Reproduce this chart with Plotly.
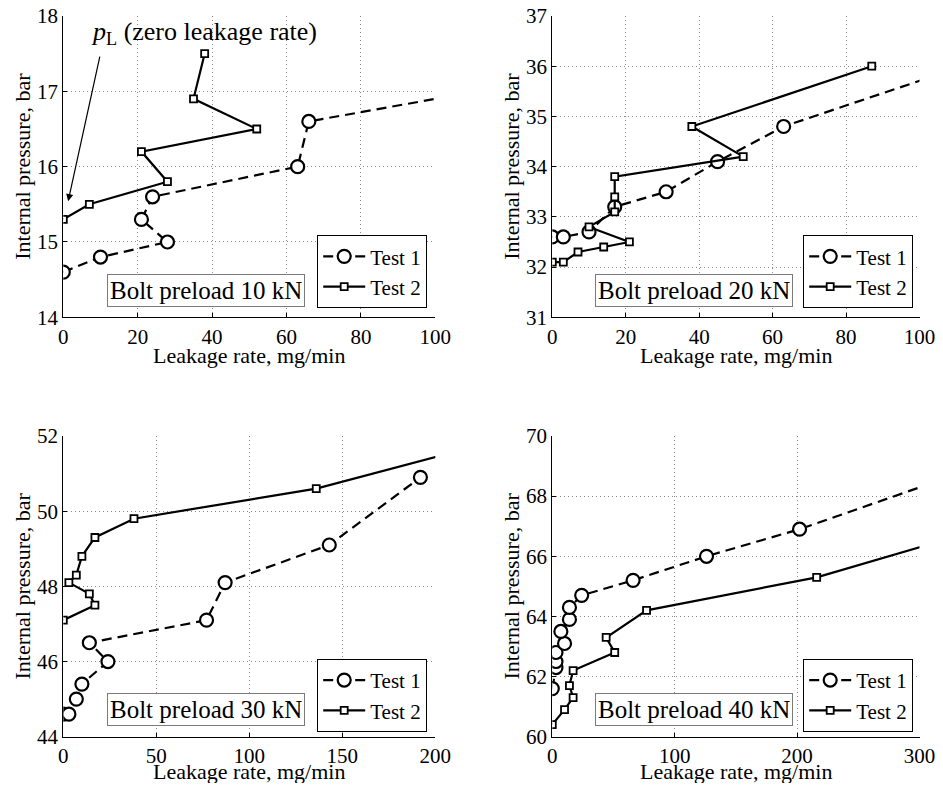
import plotly.graph_objects as go

# ---------------- data ----------------
# Panel 1: Bolt preload 10 kN
p1_t1_x = [0, 10, 28, 21, 24, 63, 66, 134]
p1_t1_y = [14.6, 14.8, 15.0, 15.3, 15.6, 16.0, 16.6, 17.2]
p1_t2_x = [0, 7, 28, 21, 52, 35, 38]
p1_t2_y = [15.3, 15.5, 15.8, 16.2, 16.5, 16.9, 17.5]

# Panel 2: Bolt preload 20 kN
p2_t1_x = [0, 3, 10, 17, 31, 45, 63, 120]
p2_t1_y = [32.6, 32.6, 32.7, 33.2, 33.5, 34.1, 34.8, 36.2]
p2_t2_x = [0, 3, 7, 14, 21, 10, 17, 17, 17, 52, 38, 87]
p2_t2_y = [32.1, 32.1, 32.3, 32.4, 32.5, 32.8, 33.1, 33.4, 33.8, 34.2, 34.8, 36.0]

# Panel 3: Bolt preload 30 kN
p3_t1_x = [0, 3, 7, 10, 24, 14, 77, 87, 143, 192]
p3_t1_y = [44.6, 44.6, 45.0, 45.4, 46.0, 46.5, 47.1, 48.1, 49.1, 50.9]
p3_t2_x = [0, 17, 14, 3, 7, 10, 17, 38, 136, 250]
p3_t2_y = [47.1, 47.5, 47.8, 48.1, 48.3, 48.8, 49.3, 49.8, 50.6, 52.1]

# Panel 4: Bolt preload 40 kN
p4_t1_x = [0, 3, 3, 3, 10, 7, 14, 14, 24, 66, 126, 202, 350]
p4_t1_y = [61.6, 62.3, 62.5, 62.8, 63.1, 63.5, 63.9, 64.3, 64.7, 65.2, 66.0, 66.9, 69.0]
p4_t2_x = [0, 10, 17, 14, 17, 51, 44, 77, 216, 350]
p4_t2_y = [60.4, 60.9, 61.3, 61.7, 62.2, 62.8, 63.3, 64.2, 65.3, 66.9]

panel_labels = ["Bolt preload 10 kN", "Bolt preload 20 kN",
                "Bolt preload 30 kN", "Bolt preload 40 kN"]
series_names = ["Test 1", "Test 2"]
x_ranges = [[0, 100], [0, 100], [0, 200], [0, 300]]
y_ranges = [[14, 18], [31, 37], [44, 52], [60, 70]]
x_dticks = [20, 20, 50, 100]
y_dticks = [1, 1, 2, 2]
x_title = "Leakage rate, mg/min"
y_title = "Internal pressure, bar"

# ---------------- style ----------------
FONT = "Liberation Serif"
OFF = 8  # default page margin of the html body
W, H = 943 - 2 * OFF, 791 - 2 * OFF


def px_x(s):
    return (s - OFF) / W


def px_y(s):
    return 1 - (s - OFF) / H


x_domains = [[px_x(63.3), px_x(435.3)], [px_x(552.3), px_x(919.5)]]
top_dom = [px_y(317.3), px_y(16)]
bot_dom = [px_y(736.7), px_y(436)]
domains = [(x_domains[0], top_dom), (x_domains[1], top_dom),
           (x_domains[0], bot_dom), (x_domains[1], bot_dom)]

data = [
    (p1_t1_x, p1_t1_y, p1_t2_x, p1_t2_y),
    (p2_t1_x, p2_t1_y, p2_t2_x, p2_t2_y),
    (p3_t1_x, p3_t1_y, p3_t2_x, p3_t2_y),
    (p4_t1_x, p4_t1_y, p4_t2_x, p4_t2_y),
]

fig = go.Figure()
legend_names = ["legend", "legend2", "legend3", "legend4"]

for i, (t1x, t1y, t2x, t2y) in enumerate(data):
    suffix = "" if i == 0 else str(i + 1)
    fig.add_trace(go.Scatter(
        x=t1x, y=t1y, name=series_names[0], mode="lines+markers",
        xaxis="x" + suffix, yaxis="y" + suffix, legend=legend_names[i],
        line=dict(color="black", width=2.2, dash="10px,6px"),
        marker=dict(symbol="circle", size=13, color="white",
                    line=dict(color="black", width=2.2)),
    ))
    fig.add_trace(go.Scatter(
        x=t2x, y=t2y, name=series_names[1], mode="lines+markers",
        xaxis="x" + suffix, yaxis="y" + suffix, legend=legend_names[i],
        line=dict(color="black", width=2.2),
        marker=dict(symbol="square", size=7, color="white",
                    line=dict(color="black", width=1.8)),
    ))

layout = dict(
    width=W, height=H, autosize=False,
    margin=dict(l=0, r=0, t=0, b=0, pad=0, autoexpand=False),
    paper_bgcolor="white", plot_bgcolor="white",
    font=dict(family=FONT, size=21, color="black"),
    showlegend=True,
)

for i in range(4):
    suffix = "" if i == 0 else str(i + 1)
    xd, yd = domains[i]
    layout["xaxis" + suffix] = dict(
        domain=xd, anchor="y" + suffix, range=x_ranges[i], dtick=x_dticks[i],
        automargin=False, ticklabeloverflow="allow",
        showline=True, linecolor="black", linewidth=1.2,
        ticks="inside", ticklen=4, tickcolor="black",
        showgrid=True, gridcolor="#8a8a8a", griddash="1px,3px", gridwidth=1,
        zeroline=False, tickfont=dict(family=FONT, size=21, color="black"),
        fixedrange=True,
    )
    layout["yaxis" + suffix] = dict(
        domain=yd, anchor="x" + suffix, range=y_ranges[i], dtick=y_dticks[i],
        automargin=False, ticklabeloverflow="allow",
        showline=True, linecolor="black", linewidth=1.2,
        ticks="inside", ticklen=4, tickcolor="black",
        showgrid=True, gridcolor="#8a8a8a", griddash="1px,3px", gridwidth=1,
        zeroline=False, tickfont=dict(family=FONT, size=21, color="black"),
        title=dict(text=y_title, font=dict(family=FONT, size=22), standoff=0),
        fixedrange=True,
    )

legend_pos = [
    (px_x(427), px_y(308)),
    (px_x(913), px_y(308)),
    (px_x(427), px_y(731.7)),
    (px_x(913), px_y(731.7)),
]
for i, name in enumerate(legend_names):
    lx, ly = legend_pos[i]
    layout[name] = dict(
        x=lx, y=ly, xanchor="right", yanchor="bottom", xref="paper", yref="paper",
        bgcolor="white", bordercolor="black", borderwidth=1.2,
        font=dict(family=FONT, size=21, color="black"),
        tracegroupgap=0, itemwidth=42,
    )

fig.update_layout(**layout)

for i in range(4):
    suffix = "" if i == 0 else str(i + 1)
    # x-axis titles
    fig.add_annotation(
        text=x_title, xref="x" + suffix + " domain", yref="y" + suffix + " domain",
        x=0.5, y=(-0.126 if i < 2 else -0.115), xanchor="center", yanchor="middle",
        showarrow=False, font=dict(family=FONT, size=22, color="black"),
    )
    # Panel label boxes
    fig.add_annotation(
        text=panel_labels[i], xref="x" + suffix + " domain", yref="y" + suffix + " domain",
        x=0.117, y=0.035, xanchor="left", yanchor="bottom", showarrow=False,
        font=dict(family=FONT, size=25, color="black"),
        bgcolor="white", bordercolor="#7a7a7a", borderwidth=1, borderpad=2,
    )

# p_L annotation (panel 1)
fig.add_annotation(
    text="<i>p</i><sub>L</sub> (zero leakage rate)", xref="x", yref="y",
    x=7.0, y=17.77, xanchor="left", yanchor="middle", showarrow=False,
    font=dict(family=FONT, size=26, color="black"),
)
fig.add_annotation(
    text="", xref="x", yref="y", axref="x", ayref="y",
    x=1.3, y=15.54, ax=9.9, ay=17.48,
    showarrow=True, arrowhead=2, arrowsize=1.2, arrowwidth=1.2, arrowcolor="black",
)

fig.write_html("out.html")
